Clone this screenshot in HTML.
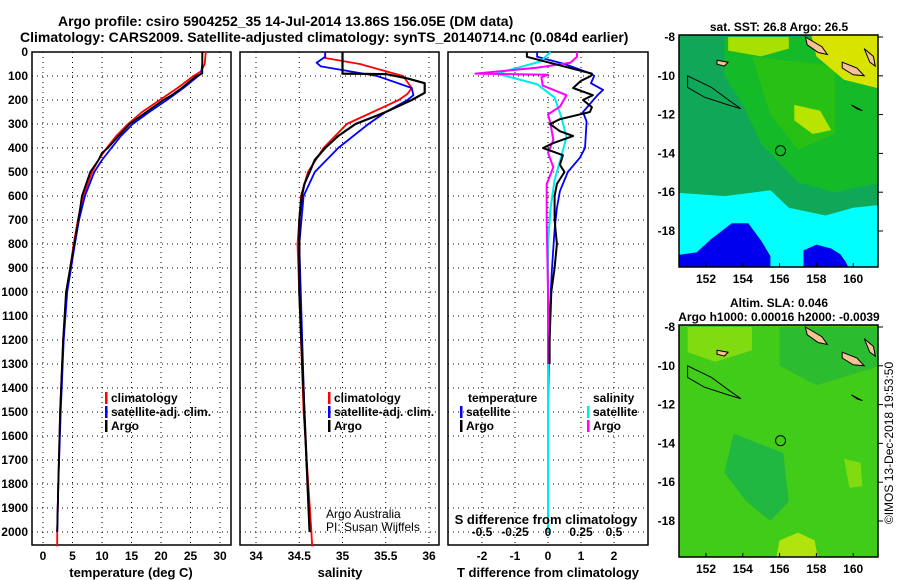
<!DOCTYPE html>
<html><head><meta charset="utf-8"><style>
html,body{margin:0;padding:0;background:#fff;}
svg{display:block;font-family:"Liberation Sans",Arial,sans-serif;}
.b{font-weight:bold;}
</style></head><body>
<svg id="chart" width="900" height="580" viewBox="0 0 900 580" xmlns="http://www.w3.org/2000/svg">
<text class="b" x="58" y="26" font-size="14">Argo profile: csiro 5904252_35 14-Jul-2014 13.86S 156.05E (DM data)</text>
<text class="b" x="20" y="42" font-size="14">Climatology: CARS2009. Satellite-adjusted climatology: synTS_20140714.nc (0.084d earlier)</text>
<g id="maps"></g>
<g id="plots"></g>
</svg>
<script>
// ---------- data ----------
var depthTicks=[0,100,200,300,400,500,600,700,800,900,1000,1100,1200,1300,1400,1500,1600,1700,1800,1900,2000];
var tempTicks=[0,5,10,15,20,25,30];
var salTicks=[34,34.5,35,35.5,36];
var tdTicks=[-2,-1,0,1,2];
var sdTicks=[-0.5,-0.25,0,0.25,0.5];

var tArgoD=[0,90,100,150,180,200,250,300,350,400,420,450,500,600,700,800,1000,1200,1500,1800,2000];
var tArgoV=[27,27,26,23.5,21.8,20.4,17.5,14.7,12.8,11,10,9.4,8,6.6,6,5.3,3.9,3.4,2.9,2.6,2.4];
var tClimD=[0,50,80,100,150,200,250,300,350,400,450,500,600,700,800,1000,1200,1500,1800,2000,2060];
var tClimV=[27.6,27.4,26.8,25.5,22.8,19.8,16.8,14.4,12.4,10.8,9.4,8.3,6.8,5.9,5.2,4.0,3.4,2.9,2.6,2.4,2.4];
var tSatD=[0,50,90,100,150,200,250,300,350,400,450,500,600,700,800,1000,1200,1500,1800,2000];
var tSatV=[27,27,26.8,26.3,23.8,21,18,15.2,13.2,11.6,10,8.7,7.1,6.1,5.4,4.1,3.5,3.0,2.6,2.4];

var sArgoD=[0,90,92,110,130,170,200,250,300,350,400,450,500,550,600,700,1000,1500,2000];
var sArgoV=[35.0,35.0,35.5,35.75,35.95,35.95,35.8,35.5,35.15,34.95,34.8,34.68,34.62,34.56,34.53,34.5,34.5,34.56,34.62];
var sClimD=[0,25,50,80,100,150,175,200,250,300,400,500,600,800,1500,2000,2060];
var sClimV=[34.8,34.8,35.2,35.5,35.7,35.8,35.75,35.65,35.35,35.05,34.78,34.6,34.52,34.48,34.55,34.64,34.65];
var sSatD=[0,20,45,60,100,150,180,200,250,300,400,500,600,800,1500,2000];
var sSatV=[34.8,34.8,34.7,34.75,35.4,35.8,35.82,35.75,35.5,35.3,34.95,34.68,34.55,34.5,34.56,34.62];

var dTArgoD=[0,20,90,100,120,150,180,200,230,250,280,300,330,350,380,400,430,470,500,550,600,700,800,900,1000,1200,1300];
var dTArgoV=[-0.64,-0.64,1.33,1.3,1.0,0.76,1.36,1.06,1.33,1.27,0.36,0.06,0.36,0.76,0.15,-0.15,0.45,0.36,0.5,0.27,0.2,0.2,0.27,0.2,0.1,0.05,0.05];
var dTSatD=[0,20,50,90,100,130,158,180,250,290,400,440,500,580,650,740,900,1100,1500,2000];
var dTSatV=[-0.33,-0.33,0.5,1.3,1.4,1.3,1.67,1.5,1.06,1.17,1.12,0.97,0.6,0.36,0.27,0.2,0.12,0.05,0.0,0.0];
var dSArgoD=[0,20,45,65,90,95,105,140,180,228,260,300,367,420,480,550,700,1000,1300];
var dSArgoV=[0.22,0.22,0.17,-0.08,-0.55,0,-0.05,-0.04,0.14,0.09,0,0.02,0.04,0.0,0.04,-0.01,-0.01,0,0];
var dSSatD=[0,40,90,110,135,190,270,354,437,533,650,800,1200,2000];
var dSSatV=[0.02,-0.06,-0.39,-0.25,-0.08,0.05,0.1,0.14,0.1,0.05,0.02,0.0,0.0,0.0];

// ---------- helpers ----------
var NS="http://www.w3.org/2000/svg";
var plots=document.getElementById('plots');
function mk(tag,attrs,parent,txt){var e=document.createElementNS(NS,tag);for(var k in attrs)e.setAttribute(k,attrs[k]);if(txt!==undefined)e.textContent=txt;(parent||plots).appendChild(e);return e;}
var TOP=52,BOT=545;
function yD(d){return TOP+d*0.24;}
function xT(v){return 43+v*5.9;}
function xS(v){return 256+(v-34)*86.5;}
function xTd(v){return 548+v*33;}
function xSd(v){return 548+v*132;}
var panels=[{x0:32,x1:231},{x0:240,x1:439},{x0:448,x1:648}];

function panelFrame(p,vx,name){
  var g=mk('g',{});
  
  
  depthTicks.forEach(function(d){
    var l=mk('line',{x1:p.x0,x2:p.x1,y1:yD(d),y2:yD(d),stroke:'#000','stroke-width':1,'stroke-dasharray':'1,4'},g);
    
    
  });
  vx.forEach(function(x){
    var l=mk('line',{x1:x,x2:x,y1:TOP,y2:BOT,stroke:'#000','stroke-width':1,'stroke-dasharray':'1,4'},g);
    
    
  });
  var r=mk('rect',{x:p.x0,y:TOP,width:p.x1-p.x0,height:BOT-TOP,fill:'none',stroke:'#000','stroke-width':1.5},g);
  
  
  return g;
}
function line(ds,vs,fx,color,w,name){
  var pts=ds.map(function(d,i){return fx(vs[i]).toFixed(1)+','+yD(Math.min(d,2060)).toFixed(1);}).join(' ');
  var pl=mk('polyline',{points:pts,fill:'none',stroke:color,'stroke-width':w,'stroke-linejoin':'round'});
  
  
}
function ticklabels(ticks,fx,y,name,fmt){
  ticks.forEach(function(t){
    var tx=mk('text',{x:fx(t),y:y,'font-size':12,'font-weight':'bold','text-anchor':'middle'},plots,fmt?fmt(t):String(t));
    
    
  });
}

panelFrame(panels[0],tempTicks.map(xT),'temperature-panel');
panelFrame(panels[1],salTicks.map(xS),'salinity-panel');
panelFrame(panels[2],tdTicks.map(xTd),'difference-panel');

depthTicks.forEach(function(d){
  var t=mk('text',{x:28,y:yD(d)+4,'font-size':12,'font-weight':'bold','text-anchor':'end'},plots,String(d));
  
  
});

line(tClimD,tClimV,xT,'#ff0000',1.8,'temperature-climatology-line');
line(tSatD,tSatV,xT,'#0000ff',1.8,'temperature-satellite-line');
line(tArgoD,tArgoV,xT,'#000',1.8,'temperature-argo-line');
line(sClimD,sClimV,xS,'#ff0000',1.8,'salinity-climatology-line');
line(sSatD,sSatV,xS,'#0000ff',1.8,'salinity-satellite-line');
line(sArgoD,sArgoV,xS,'#000',2.2,'salinity-argo-line');
line(dTSatD,dTSatV,xTd,'#0000ff',1.8,'tdiff-satellite-line');
line(dSSatD,dSSatV,xSd,'#00e8f0',2,'sdiff-satellite-line');
line(dSArgoD,dSArgoV,xSd,'#ff00ff',2,'sdiff-argo-line');
line(dTArgoD,dTArgoV,xTd,'#000',2,'tdiff-argo-line');

ticklabels(tempTicks,xT,560,'temperature-tick-label');
ticklabels(salTicks,xS,560,'salinity-tick-label');
ticklabels(tdTicks,xTd,560,'tdiff-tick-label');
ticklabels(sdTicks,xSd,536,'sdiff-tick-label');

function txt(x,y,s,name,size,anchor,weight){
  var t=mk('text',{x:x,y:y,'font-size':size||12,'font-weight':weight||'bold','text-anchor':anchor||'start'},plots,s);
  
  
  return t;
}
txt(131,577,'temperature (deg C)','x-axis-title-temperature',13,'middle');
txt(340,577,'salinity','x-axis-title-salinity',13,'middle');
txt(548,577,'T difference from climatology','x-axis-title-tdiff',13,'middle');
txt(546,524,'S difference from climatology','sdiff-axis-title',13,'middle');
txt(326,518,'Argo Australia','credit-argo-australia',12,'start','normal');
txt(326,531,'PI: Susan Wijffels','credit-pi',12,'start','normal');

function legend(x,y,color,label,name){
  var r=mk('rect',{x:x,y:y-10,width:2.5,height:12,fill:color});
  
  
  txt(x+6,y,label,name,12);
}
legend(105,402,'#ff0000','climatology','legend-temp-climatology');
legend(105,416,'#0000ff','satellite-adj. clim.','legend-temp-satellite');
legend(105,430,'#000','Argo','legend-temp-argo');
legend(328,402,'#ff0000','climatology','legend-sal-climatology');
legend(328,416,'#0000ff','satellite-adj. clim.','legend-sal-satellite');
legend(328,430,'#000','Argo','legend-sal-argo');
txt(468,402,'temperature','legend-temperature-heading',12);
legend(460,416,'#0000ff','satellite','legend-tdiff-satellite');
legend(460,430,'#000','Argo','legend-tdiff-argo');
txt(593,402,'salinity','legend-salinity-heading',12);
legend(587,416,'#00e8f0','satellite','legend-sdiff-satellite');
legend(587,430,'#ff00ff','Argo','legend-sdiff-argo');

// ---------- maps ----------
var maps=document.getElementById('maps');
var latTicks=[-8,-10,-12,-14,-16,-18];
var lonTicks=[152,154,156,158,160];
var floatLon=156.05, floatLat=-13.86;
function mxf(lon){return 706+(lon-152)*18.4;}
function buildMap(top,name,title1,title2,layers){
  var g=mk('g',{},maps);
  
  
  var y0=top+2;
  function my(lat){return y0+(-8-lat)*19.4;}
  var bot=top+232;
  var clip=mk('clipPath',{id:name+'-clip'},g);
  mk('rect',{x:679,y:top,width:199,height:232},clip);
  var inner=mk('g',{'clip-path':'url(#'+name+'-clip)'},g);
  layers.forEach(function(L){
    var pts=L.pts.map(function(p){return mxf(p[0]).toFixed(1)+','+my(p[1]).toFixed(1);}).join(' ');
    var pg=mk('polygon',{points:pts,fill:L.fill,stroke:L.stroke||'none','stroke-width':1},inner);
    
    
  });
  var c=mk('circle',{cx:mxf(floatLon),cy:my(floatLat),r:5,fill:'none',stroke:'#000','stroke-width':1},g);
  
  
  var r=mk('rect',{x:679,y:top,width:199,height:232,fill:'none',stroke:'#000','stroke-width':1.5},g);
  
  
  latTicks.forEach(function(l){
    mk('line',{x1:878,x2:883,y1:my(l),y2:my(l),stroke:'#000'},g);
    var t=mk('text',{x:675,y:my(l)+4,'font-size':12,'font-weight':'bold','text-anchor':'end'},g,String(l));
    
    
  });
  lonTicks.forEach(function(l){
    mk('line',{x1:mxf(l),x2:mxf(l),y1:bot,y2:bot-4,stroke:'#000'},g);
    var t=mk('text',{x:mxf(l),y:bot+16,'font-size':12,'font-weight':'bold','text-anchor':'middle'},g,String(l));
    
    
  });
  var t1=mk('text',{x:779,y:top-17+(title2?-1:13),'font-size':12,'font-weight':'bold','text-anchor':'middle'},g,title1);
  
  
  if(title2){
    var t2=mk('text',{x:779,y:top-4,'font-size':12,'font-weight':'bold','text-anchor':'middle'},g,title2);
    
    
  }
}
var landA={name:'land-solomon',fill:'#f7c394',stroke:'#000',pts:[[157.4,-8.0],[158.3,-8.5],[158.6,-8.9],[158.1,-8.8],[157.5,-8.4]]};
var landB={name:'land-guadalcanal',fill:'#f7c394',stroke:'#000',pts:[[159.4,-9.3],[160.2,-9.6],[160.6,-10.0],[160.0,-9.95],[159.4,-9.6]]};
var landC={name:'land-malaita',fill:'#f7c394',stroke:'#000',pts:[[160.6,-8.6],[161.1,-9.0],[161.2,-9.5],[160.9,-9.3]]};
var landD={name:'land-png-islands',fill:'none',stroke:'#000',pts:[[151.0,-10.0],[152.3,-10.6],[153.3,-11.3],[153.9,-11.7],[153.2,-11.5],[151.9,-11.1],[151.0,-10.6]]};
var landF={name:'land-rossel',fill:'#f7c394',stroke:'#000',pts:[[152.6,-9.2],[153.2,-9.3],[153.0,-9.5],[152.6,-9.4]]};
var landE={name:'land-rennell',fill:'#f7c394',stroke:'#000',pts:[[159.9,-11.5],[160.5,-11.8],[160.2,-11.7]]};
buildMap(35,'sst-map','sat. SST: 26.8 Argo: 26.5',null,[
  {name:'sst-base',fill:'#10a858',pts:[[150,-7],[162,-7],[162,-20],[150,-20]]},
  {name:'sst-warm-green',fill:'#14ba28',pts:[[153,-8],[161.5,-8],[161.5,-15.5],[159,-16],[157,-15.5],[155,-13.5],[154,-11.5],[153,-10]]},
  {name:'sst-green-mix',fill:'#28c014',pts:[[154.5,-9],[159,-9.5],[159,-13],[157,-13.8],[155.5,-12]]},
  {name:'sst-yellow-north',fill:'#a8e000',pts:[[153.2,-8],[156.5,-8],[156.5,-8.6],[155,-9],[153.2,-8.7]]},
  {name:'sst-yellow-ne',fill:'#d8e400',pts:[[157.5,-7],[162,-7],[162,-10.8],[159.5,-10.2],[158,-9]]},
  {name:'sst-yellow-center',fill:'#b8e400',pts:[[156.8,-11.5],[158.2,-11.8],[158.8,-12.8],[157.8,-13.0],[156.8,-12.3]]},
  {name:'sst-cyan-south',fill:'#00ffff',pts:[[150,-16.0],[153,-16.2],[155.5,-15.9],[156.5,-16.8],[158.5,-17.2],[160,-16.8],[162,-16.6],[162,-20],[150,-20]]},
  {name:'sst-blue-sw',fill:'#0000ee',pts:[[150,-19.3],[151.5,-19.1],[152.3,-18.4],[153.4,-17.6],[154.3,-17.6],[155.0,-18.5],[155.5,-19.3],[155.5,-20],[150,-20]]},
  {name:'sst-blue-se',fill:'#0000ee',pts:[[157.3,-19.0],[158.0,-18.7],[158.8,-18.9],[159.3,-19.2],[159.6,-19.6],[159.8,-20],[157.3,-20]]},
  landA,landB,landC,landD,landE,landF
]);
buildMap(325,'sla-map','Altim. SLA: 0.046','Argo h1000: 0.00016 h2000: -0.0039',[
  {name:'sla-base',fill:'#40cc18',pts:[[150,-7],[162,-7],[162,-20],[150,-20]]},
  {name:'sla-low-center',fill:'#20b840',pts:[[153.5,-13.5],[156.2,-14.5],[156.5,-17],[155.5,-18],[154.2,-17],[153,-15.5]]},
  {name:'sla-low-north',fill:'#2cbc30',pts:[[156,-8],[161.5,-8],[161.5,-10],[158,-11],[156,-10]]},
  {name:'sla-high-nw',fill:'#80dc10',pts:[[151,-8],[154.5,-8],[154.5,-9.2],[152.5,-9.8],[151,-9.3]]},
  {name:'sla-high-south',fill:'#b0e40c',pts:[[156,-19],[157,-18.6],[157.9,-19],[158.1,-20],[155.8,-20]]},
  {name:'sla-high-east',fill:'#80dc10',pts:[[159.5,-14.8],[160.4,-15.0],[160.5,-16.2],[159.8,-16.3]]},
  landA,landB,landC,landD,landE,landF
]);
var cr=mk('text',{x:0,y:0,'font-size':12,'text-anchor':'middle',transform:'translate(893,443) rotate(-90)'},maps,'©IMOS 13-Dec-2018 19:53:50');


</script>
</body></html>
